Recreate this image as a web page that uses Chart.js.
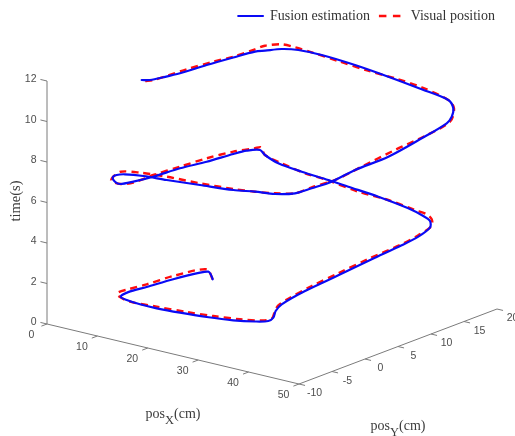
<!DOCTYPE html>
<html><head><meta charset="utf-8">
<style>html,body{margin:0;padding:0;background:#fff}canvas{display:block}</style>
<script src="https://cdn.jsdelivr.net/npm/chart.js@4"></script></head>
<body><canvas id="c" width="515" height="436"></canvas>
<script>
// Trajectory values (cm, cm, s)
const fusionX=[5.81,4.22,3.29,3.05,3.35,4.08,4.46,5.47,7.66,11.38,15.61,21.10,27.17,32.84,37.04,39.22,39.09,37.55,36.65,36.58,37.54,38.42,39.33,39.56,38.87,37.05,35.08,31.68,25.99,20.75,17.26,12.85,8.60,5.09,3.27,2.59,2.73,3.40,3.77,4.65,4.93,4.77,3.68,2.24,2.25,3.49,7.25,12.62,20.05,27.47,31.83,36.05,39.30,40.64,42.06,42.51,44.18,44.35,44.13,43.01,40.96,38.20,33.01,26.78,20.85,15.40,12.18,10.75,10.10,9.73,10.19,10.79,11.64,11.81,11.77,11.22];
const fusionY=[10.67,11.58,11.93,10.85,6.57,1.98,-1.10,-3.01,-3.77,-4.60,-5.30,-5.96,-6.55,-6.85,-6.77,-6.42,-5.56,-4.03,-2.43,1.16,5.47,9.86,13.71,16.05,18.34,19.74,20.23,20.55,20.35,19.81,19.44,18.78,18.48,19.14,19.78,18.28,16.14,11.60,7.27,2.55,-0.69,-2.58,-2.51,-1.76,-1.16,-0.85,-0.94,-1.50,-2.13,-2.75,-2.79,-2.98,-2.44,-0.93,1.01,4.21,7.98,12.91,16.86,18.48,20.28,21.63,21.56,21.26,20.74,19.86,18.78,17.35,15.32,14.09,10.45,5.95,1.26,-1.39,-3.38,-4.22];
const fusionT=[0.00,0.04,0.07,0.14,0.36,0.59,0.74,0.81,0.87,0.98,1.12,1.31,1.53,1.74,1.92,2.03,2.08,2.13,2.21,2.42,2.72,3.02,3.29,3.44,3.56,3.61,3.68,3.82,4.08,4.33,4.50,4.73,4.93,5.05,5.11,5.22,5.33,5.55,5.78,6.00,6.17,6.28,6.32,6.36,6.40,6.47,6.62,6.81,7.08,7.35,7.53,7.69,7.85,7.99,8.16,8.37,8.66,8.97,9.21,9.27,9.34,9.42,9.65,9.94,10.23,10.51,10.70,10.84,10.97,11.05,11.24,11.46,11.68,11.82,11.93,12.00];
const visualX=[5.81,2.45,2.36,3.22,3.56,3.95,5.28,9.19,15.49,22.41,28.37,34.05,38.19,39.41,37.73,36.62,36.37,36.51,37.22,37.97,39.27,39.37,38.86,37.03,35.21,33.05,28.01,23.32,17.46,13.83,9.15,5.42,2.91,2.76,2.39,2.70,3.58,4.50,5.64,5.18,3.45,2.51,2.26,5.98,11.89,19.82,27.47,32.16,36.15,39.63,40.65,42.44,42.91,43.55,44.46,44.41,41.30,38.46,32.63,27.98,23.68,18.60,14.03,11.30,9.43,8.69,9.15,10.13,10.34,10.98,11.80,12.17,11.94];
const visualY=[10.67,12.33,7.34,2.65,-0.40,-2.31,-3.23,-4.44,-5.20,-5.95,-6.47,-6.76,-6.63,-6.05,-4.27,-2.92,-1.21,2.23,5.71,9.68,13.76,16.19,18.61,20.01,20.65,20.52,20.32,19.36,19.06,18.53,18.58,18.89,20.20,19.41,16.41,12.14,7.42,2.67,-1.23,-2.79,-2.91,-1.87,-0.56,-0.47,-0.94,-1.96,-2.75,-3.04,-3.06,-2.69,-0.93,1.23,4.91,9.47,13.32,17.15,20.13,21.43,21.85,21.36,20.55,19.89,19.39,18.95,18.36,16.39,14.53,10.49,7.30,2.78,-0.88,-3.19,-4.27];
const visualT=[0.00,0.09,0.37,0.59,0.74,0.83,0.86,0.96,1.18,1.42,1.64,1.85,2.02,2.11,2.17,2.22,2.32,2.53,2.77,3.03,3.33,3.48,3.61,3.66,3.72,3.82,4.04,4.29,4.56,4.74,4.95,5.10,5.17,5.21,5.39,5.61,5.83,6.06,6.23,6.33,6.40,6.42,6.49,6.65,6.86,7.13,7.40,7.58,7.74,7.90,8.04,8.24,8.47,8.77,9.04,9.27,9.38,9.46,9.69,9.92,10.14,10.40,10.62,10.76,10.87,11.00,11.08,11.27,11.43,11.65,11.82,11.93,12.00];
const xTicks=[0,10,20,30,40,50];
const yTicks=[-10,-5,0,5,10,15,20];
const tTicks=[0,2,4,6,8,10,12];
const seriesNames=['Fusion estimation','Visual position'];

// Oblique view used by the 3-D box: value -> view-plane coordinates
const project=(x,y,t)=>({x:47+5.04*x+6.6*(y+10),y:324+1.2*x-2.5*(y+10)-20.25*t});
const path=(X,Y,T)=>X.map((v,i)=>project(v,Y[i],T[i]));
const gap={x:null,y:null};
const axisPts=(a,b,ticks,seg)=>{const p=[project(...a),project(...b),gap];
  ticks.forEach(v=>{const [s,e]=seg(v);p.push(project(...s),project(...e),gap)});return p};
const axisStyle={borderColor:'#7b7b7b',borderWidth:1,pointRadius:0,showLine:true,spanGaps:false,tension:0,fill:false,clip:false};
const data={datasets:[
 {label:seriesNames[0],data:path(fusionX,fusionY,fusionT),borderColor:'#0a0af5',backgroundColor:'#0a0af5',borderWidth:2.2,pointRadius:0,showLine:true,tension:0.3,clip:false,borderCapStyle:'round',borderJoinStyle:'round'},
 {label:seriesNames[1],data:path(visualX,visualY,visualT),borderColor:'#ff0d0d',backgroundColor:'#ff0d0d',borderWidth:2.4,borderDash:[7,5],pointRadius:0,showLine:true,tension:0.3,clip:false},
 {label:'',data:axisPts([0,-10,0],[50,-10,0],xTicks,v=>[[v,-10,0],[v,-10.85,0]]),...axisStyle},
 {label:'',data:axisPts([50,-10,0],[50,20,0],yTicks,v=>[[50,v,0],[51.2,v,0]]),...axisStyle},
 {label:'',data:axisPts([0,-10,0],[0,-10,12],tTicks,v=>[[0,-10,v],[-1.3,-10,v]]),...axisStyle}
]};

// The legend sits over the plot: it takes no layout height, so the view scale stays 1:1 with the canvas
const legendOverlay={id:'legendOverlay',beforeLayout(chart){
  const lg=chart.legend;
  if(lg&&!lg._overlaid){lg._overlaid=true;
    const fit=lg.fit,draw=lg.draw;
    lg.fit=function(){fit.call(this);this._fullH=this.height;this.height=0;};
    lg.draw=function(){const b=this.bottom;this.bottom=this.top+this._fullH;draw.call(this);this.bottom=b;};
  }
}};
const labelsPlugin={id:'box3dLabels',afterDatasetsDraw(chart){
  const {ctx,scales:{x:h,y:v}}=chart;
  const at=(x,y,t)=>{const p=project(x,y,t);return [h.getPixelForValue(p.x),v.getPixelForValue(p.y)]};
  ctx.save();ctx.fillStyle='#4d4d4d';ctx.font="10.5px 'Liberation Sans'";ctx.textBaseline='middle';
  ctx.textAlign='right';tTicks.forEach(t=>{const [a,b]=at(0,-10,t);ctx.fillText(t,a-10.5,b-1.5)});
  ctx.textAlign='center';
  xTicks.forEach(x=>{const [a,b]=at(x,-10,0);ctx.fillText(x,a-15.5,b+11)});
  yTicks.forEach(y=>{const [a,b]=at(50,y,0);ctx.fillText(y,a+15.5,b+9.5)});
  ctx.fillStyle='#3c3c3c';
  const serif=s=>`${s}px 'Liberation Serif'`;
  const sub=(cx,cy,main,s,rest)=>{ctx.textAlign='left';ctx.font=serif(14);const w1=ctx.measureText(main).width,w3=ctx.measureText(rest).width;
    ctx.font=serif(12.5);const w2=ctx.measureText(s).width;let l=cx-(w1+w2+w3)/2;
    ctx.font=serif(14);ctx.fillText(main,l,cy);ctx.font=serif(12.5);ctx.fillText(s,l+w1,cy+7);ctx.font=serif(14);ctx.fillText(rest,l+w1+w2,cy)};
  sub(h.getPixelForValue(173),v.getPixelForValue(414),'pos','X','(cm)');
  sub(h.getPixelForValue(398),v.getPixelForValue(426),'pos','Y','(cm)');
  ctx.save();ctx.translate(h.getPixelForValue(16),v.getPixelForValue(201));ctx.rotate(-Math.PI/2);ctx.textAlign='center';ctx.font=serif(14.5);ctx.fillText('time(s)',0,0);ctx.restore();
  ctx.restore();
}};

new Chart(document.getElementById('c'),{type:'scatter',data,plugins:[legendOverlay,labelsPlugin],options:{
  responsive:false,animation:false,events:[],
  layout:{padding:{right:11}},
  scales:{
    x:{type:'linear',min:0,max:504,display:false},
    y:{type:'linear',min:0,max:436,reverse:true,display:false}
  },
  plugins:{tooltip:{enabled:false},title:{display:false},
    legend:{position:'top',align:'end',
      labels:{filter:i=>i.text!=='',color:'#333',font:{family:"'Liberation Serif'",size:14},boxWidth:24.75,boxHeight:0,padding:9,
        generateLabels:c=>Chart.defaults.plugins.legend.labels.generateLabels(c).map(i=>i.lineDash&&i.lineDash.length?{...i,lineDash:[7.5,6.5]}:i)}}}
}});
</script></body></html>
